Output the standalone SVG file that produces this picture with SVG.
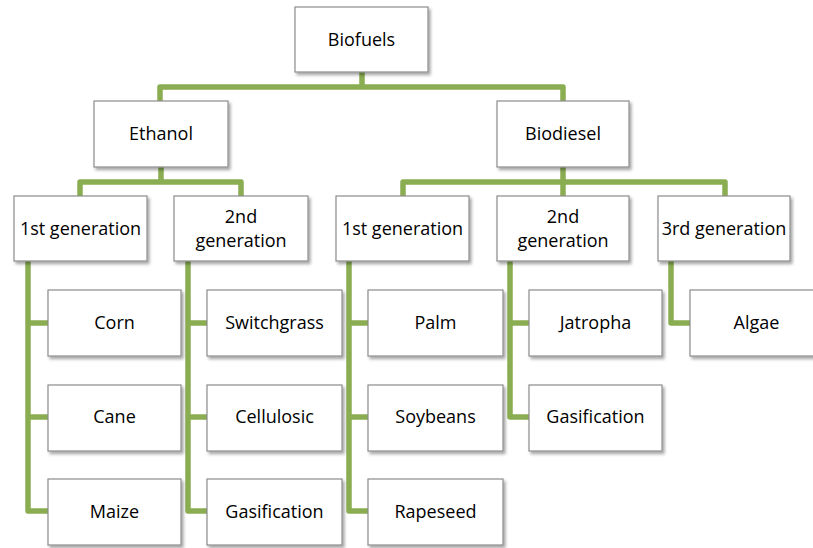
<svg xmlns="http://www.w3.org/2000/svg" width="813" height="548" viewBox="0 0 813 548">
<defs>
<filter id="sh" x="-10%" y="-10%" width="130%" height="140%">
<feDropShadow dx="2" dy="2.5" stdDeviation="1.6" flood-color="#000" flood-opacity="0.35"/>
</filter>
<style>
.box{fill:#fff;stroke:#8c8c8c;stroke-width:1.2;filter:url(#sh)}
.t{font-family:"Open Sans","Liberation Sans",sans-serif;font-size:18px;fill:#000;text-anchor:middle}
.c{fill:none;stroke:#8aad52;stroke-width:5.5;stroke-linejoin:round;stroke-linecap:butt}
</style>
</defs>
<rect width="813" height="548" fill="#fff"/>
<g id="connectors">
<path class="c" d="M160,101 V87 H563 V101 M362,72 V87"/>
<path class="c" d="M80,196 V182 H241 V196 M161,167 V182"/>
<path class="c" d="M403,196 V182 H725 V196 M563,167 V196"/>
<path class="c" d="M28,261 V511 H48 M28,323 H48 M28,417 H48"/>
<path class="c" d="M188,261 V511 H207 M188,323 H207 M188,417 H207"/>
<path class="c" d="M349,261 V511 H368 M349,323 H368 M349,417 H368"/>
<path class="c" d="M510,261 V417 H529 M510,323 H529"/>
<path class="c" d="M671,261 V323 H690"/>
</g>
<g id="biofuels"><rect class="box" x="295" y="7" width="133" height="65"/><text class="t" x="361.5" y="46">Biofuels</text></g>
<g id="ethanol"><rect class="box" x="94" y="101" width="134" height="66"/><text class="t" x="161" y="140">Ethanol</text></g>
<g id="biodiesel"><rect class="box" x="497" y="101" width="132" height="66"/><text class="t" x="563" y="140">Biodiesel</text></g>
<g id="eth-gen1"><rect class="box" x="14" y="196" width="133" height="65"/><text class="t" x="80.5" y="235">1st generation</text></g>
<g id="eth-gen2"><rect class="box" x="174" y="196" width="134" height="65"/><text class="t" x="241" y="222.5">2nd</text><text class="t" x="241" y="246.5">generation</text></g>
<g id="bio-gen1"><rect class="box" x="336" y="196" width="133" height="65"/><text class="t" x="402.5" y="235">1st generation</text></g>
<g id="bio-gen2"><rect class="box" x="497" y="196" width="132" height="65"/><text class="t" x="563" y="222.5">2nd</text><text class="t" x="563" y="246.5">generation</text></g>
<g id="bio-gen3"><rect class="box" x="658" y="196" width="132" height="65"/><text class="t" x="724" y="235">3rd generation</text></g>
<g id="corn"><rect class="box" x="48" y="290" width="133" height="66"/><text class="t" x="114.5" y="329">Corn</text></g>
<g id="cane"><rect class="box" x="48" y="385" width="133" height="66"/><text class="t" x="114.5" y="423">Cane</text></g>
<g id="maize"><rect class="box" x="48" y="479" width="133" height="66"/><text class="t" x="114.5" y="518">Maize</text></g>
<g id="switchgrass"><rect class="box" x="207" y="290" width="135" height="66"/><text class="t" x="274.5" y="329">Switchgrass</text></g>
<g id="cellulosic"><rect class="box" x="207" y="385" width="135" height="66"/><text class="t" x="274.5" y="423">Cellulosic</text></g>
<g id="eth-gasification"><rect class="box" x="207" y="479" width="135" height="66"/><text class="t" x="274.5" y="518">Gasification</text></g>
<g id="palm"><rect class="box" x="368" y="290" width="135" height="66"/><text class="t" x="435.5" y="329">Palm</text></g>
<g id="soybeans"><rect class="box" x="368" y="385" width="135" height="66"/><text class="t" x="435.5" y="423">Soybeans</text></g>
<g id="rapeseed"><rect class="box" x="368" y="479" width="135" height="66"/><text class="t" x="435.5" y="518">Rapeseed</text></g>
<g id="jatropha"><rect class="box" x="529" y="290" width="133" height="66"/><text class="t" x="595.5" y="329">Jatropha</text></g>
<g id="bio-gasification"><rect class="box" x="529" y="385" width="133" height="66"/><text class="t" x="595.5" y="423">Gasification</text></g>
<g id="algae"><rect class="box" x="690" y="290" width="133" height="66"/><text class="t" x="756.5" y="329">Algae</text></g>
</svg>
